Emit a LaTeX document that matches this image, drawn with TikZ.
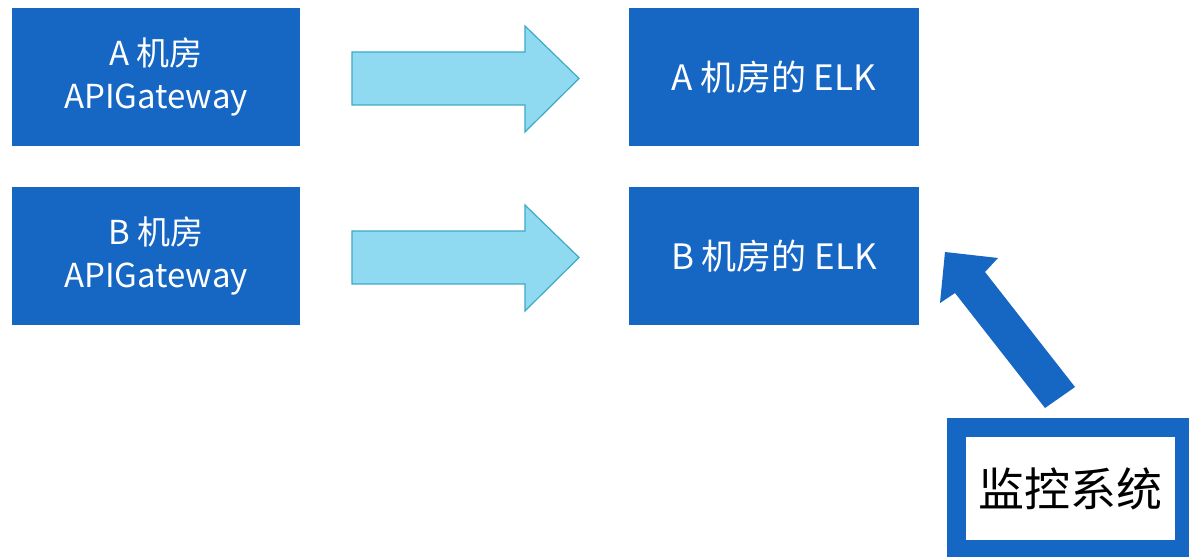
\documentclass[tikz,border=0pt]{standalone}
\usepackage{fontspec}
\setmainfont{Noto Sans CJK SC}
\definecolor{boxblue}{RGB}{22,102,196}
\definecolor{arrowfill}{RGB}{143,218,240}
\definecolor{arrowline}{RGB}{62,170,200}
\tikzset{
  srcbox/.style={rectangle, fill=boxblue, draw=none, minimum width=288pt, minimum height=138pt, inner sep=0pt, text=white, align=center, font=\fontsize{33}{43}\selectfont},
  elkbox/.style={rectangle, fill=boxblue, draw=none, minimum width=290pt, minimum height=138pt, inner sep=0pt, text=white, font=\fontsize{35}{40}\selectfont},
  flowarrow/.style={fill=arrowfill, draw=arrowline, line width=1.2pt, line join=miter},
  monarrow/.style={fill=boxblue, draw=none},
  monbox/.style={rectangle, fill=white, draw=boxblue, line width=19pt, minimum width=228pt, minimum height=122pt, inner sep=0pt, text=black, font=\fontsize{46}{50}\selectfont}
}
\begin{document}
\begin{tikzpicture}[x=1pt,y=1pt]
\useasboundingbox (0,0) rectangle (1189,557);
\fill[white] (0,0) rectangle (1189,557);
\node[srcbox] (srcA) at (156,480) {A 机房\\APIGateway};
\node[srcbox] (srcB) at (156,301) {B 机房\\APIGateway};
\node[elkbox] (elkA) at (774,480) {A 机房的 ELK};
\node[elkbox] (elkB) at (774,301) {B 机房的 ELK};
% block arrows
\draw[flowarrow] (352,505) -- (525,505) -- (525,531) -- (579,478.5) -- (525,425) -- (525,452) -- (352,452) -- cycle;
\draw[flowarrow] (352,326) -- (525,326) -- (525,352) -- (579,299.5) -- (525,246) -- (525,273) -- (352,273) -- cycle;
\node[monbox] (mon) at (1070.5,68.5) {监控系统};
\fill[monarrow] (945,305) -- (998,299) -- (985,285) -- (1075,170) -- (1045,149) -- (955,264) -- (940,254) -- cycle;
\end{tikzpicture}
\end{document}
